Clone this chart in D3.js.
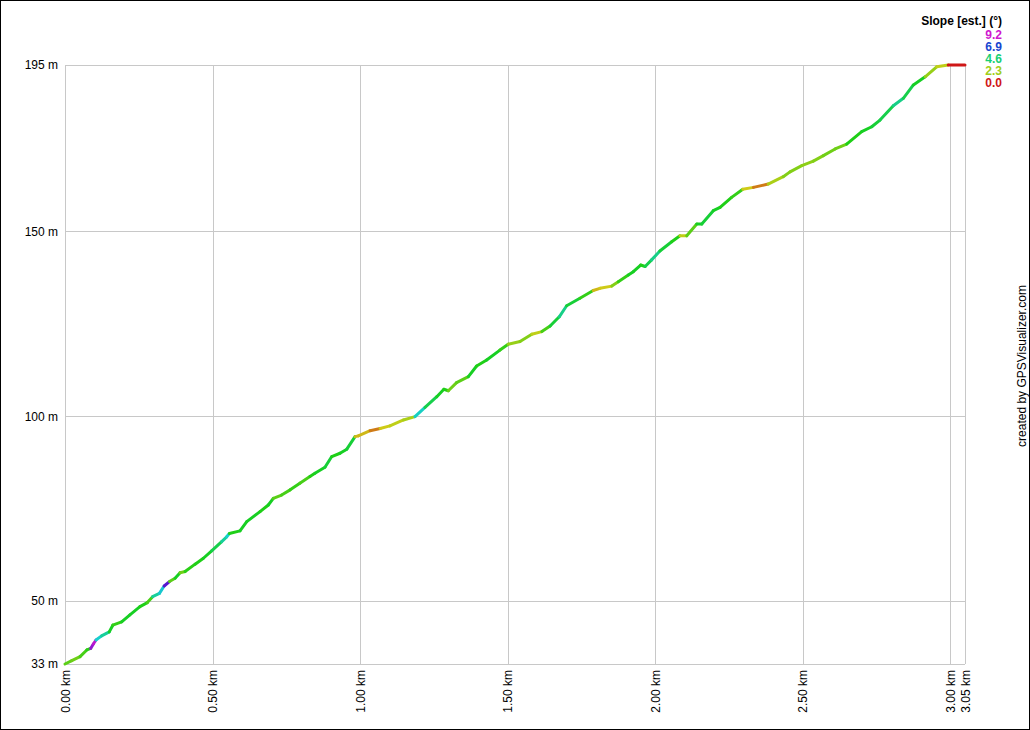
<!DOCTYPE html>
<html>
<head>
<meta charset="utf-8">
<script src="https://cdn.jsdelivr.net/npm/d3@7"></script>
<style>
  html, body { margin: 0; padding: 0; background: #fff; }
  svg { display: block; }
  text { font-family: "Liberation Sans", Arial, sans-serif; }
</style>
</head>
<body>
<svg id="chart" width="1030" height="730"></svg>
<script>
// Distance along track (km)
const distanceKm = [
  0.000, 0.023, 0.051, 0.074, 0.087, 0.096, 0.105, 0.124, 0.150, 0.162,
  0.192, 0.220, 0.254, 0.279, 0.297, 0.320, 0.336, 0.354, 0.373, 0.390,
  0.407, 0.441, 0.469, 0.497, 0.531, 0.548, 0.557, 0.593, 0.616, 0.661,
  0.689, 0.706, 0.734, 0.763, 0.796, 0.830, 0.847, 0.881, 0.904, 0.932,
  0.955, 0.983, 0.994, 1.034, 1.068, 1.101, 1.147, 1.186, 1.220, 1.260,
  1.284, 1.299, 1.327, 1.367, 1.395, 1.429, 1.474, 1.502, 1.542, 1.582,
  1.616, 1.644, 1.675, 1.700, 1.745, 1.790, 1.813, 1.853, 1.875, 1.909,
  1.926, 1.951, 1.966, 1.988, 2.016, 2.056, 2.084, 2.107, 2.141, 2.158,
  2.197, 2.220, 2.259, 2.297, 2.333, 2.383, 2.434, 2.457, 2.497, 2.536,
  2.570, 2.610, 2.649, 2.700, 2.734, 2.762, 2.807, 2.841, 2.875, 2.915,
  2.954, 2.993, 3.050
];
// Elevation (m)
const elevationM = [
  33.0, 33.9, 35.0, 36.8, 37.2, 38.4, 39.5, 40.6, 41.7, 43.5,
  44.4, 46.3, 48.5, 49.6, 51.2, 52.1, 54.1, 55.3, 56.2, 57.7,
  58.0, 60.0, 61.6, 63.6, 66.1, 67.4, 68.3, 69.0, 71.5, 74.2,
  76.0, 77.8, 78.7, 80.1, 81.9, 83.7, 84.6, 86.2, 89.1, 90.0,
  91.1, 94.5, 94.7, 96.1, 96.7, 97.4, 99.0, 99.9, 102.4, 105.3,
  107.3, 106.9, 109.1, 110.7, 113.6, 115.2, 117.9, 119.5, 120.2, 122.2,
  122.9, 124.4, 126.9, 129.9, 131.9, 134.0, 134.6, 135.2, 136.4, 138.2,
  139.1, 140.9, 140.5, 142.3, 144.7, 147.2, 148.8, 148.8, 152.0, 152.0,
  155.6, 156.5, 159.2, 161.4, 161.9, 162.8, 164.8, 166.1, 167.8, 169.0,
  170.5, 172.3, 173.6, 177.0, 178.3, 180.1, 184.0, 186.0, 189.6, 191.8,
  194.5, 195.0, 195.0
];
// Estimated slope (degrees) of the stretch starting at each point
const slopeDeg = [
  3.0, 2.8, 3.2, 3.5, 8.6, 9.0, 5.5, 5.0, 3.8, 3.4,
  3.8, 3.8, 3.6, 3.2, 5.0, 5.6, 8.0, 3.0, 3.8, 2.8,
  3.5, 3.6, 3.8, 4.2, 5.0, 5.5, 3.6, 3.8, 3.8, 3.6,
  3.8, 3.0, 3.2, 3.4, 3.2, 3.6, 3.8, 4.0, 3.6, 3.8,
  4.0, 1.6, 1.6, 1.0, 1.8, 2.0, 2.2, 5.4, 4.2, 3.8,
  3.6, 2.8, 3.0, 3.8, 3.6, 3.8, 3.4, 2.4, 2.6, 2.0,
  3.2, 4.0, 4.8, 4.0, 3.4, 1.6, 1.8, 2.6, 3.4, 3.8,
  3.8, 3.6, 4.2, 4.8, 4.0, 3.6, 2.0, 3.0, 3.8, 4.0,
  3.8, 3.6, 3.4, 1.8, 1.0, 2.2, 2.6, 2.6, 2.5, 2.6,
  2.8, 2.8, 3.6, 3.8, 4.0, 4.2, 4.8, 4.2, 3.8, 2.4,
  2.0, 0.0, 0.0
];
const xTicks = [0, 0.5, 1.0, 1.5, 2.0, 2.5, 3.0, 3.05];
const yTicks = [33, 50, 100, 150, 195];
const legendValues = [9.2, 6.9, 4.6, 2.3, 0.0];
const legendTitle = "Slope [est.] (°)";
const creditText = "created by GPSVisualizer.com";

const svg = d3.select("#chart");
const W = 1030, H = 730;
const plotL = 65, plotR = 965, plotT = 65, plotB = 664;
const FONT = "'Liberation Sans', Arial, sans-serif";

svg.append("rect").attr("x", 0.5).attr("y", 0.5).attr("width", W - 1).attr("height", H - 1)
  .attr("fill", "#fff").attr("stroke", "#000").attr("stroke-width", 1);

const x = d3.scaleLinear().domain([0, 3.05]).range([plotL, plotR]);
const y = d3.scaleLinear().domain([33, 195]).range([plotB, plotT]);
const color = s => d3.hsl(s / 9.2 * 300, 0.8, 0.45).formatHex();

// Y axis + horizontal grid
const yAxis = svg.append("g").attr("transform", `translate(${plotL},0)`)
  .call(d3.axisLeft(y).tickValues(yTicks).tickSize(-(plotR - plotL)).tickPadding(7)
    .tickFormat(d => d + " m"));
yAxis.select(".domain").remove();
yAxis.selectAll(".tick line").attr("stroke", "#c8c8c8").attr("shape-rendering", "crispEdges");
yAxis.selectAll(".tick text").attr("font-size", 12).attr("fill", "#000")
  .attr("font-family", FONT);

// X axis + vertical grid
const xAxis = svg.append("g").attr("transform", `translate(0,${plotB})`)
  .call(d3.axisBottom(x).tickValues(xTicks).tickSize(-(plotB - plotT))
    .tickFormat(d => d.toFixed(2) + " km"));
xAxis.select(".domain").remove();
xAxis.selectAll(".tick line").attr("stroke", "#c8c8c8").attr("shape-rendering", "crispEdges");
xAxis.selectAll(".tick text")
  .attr("font-size", 12).attr("fill", "#000")
  .attr("font-family", FONT)
  .attr("transform", "rotate(-90)")
  .attr("text-anchor", "end")
  .attr("x", -6).attr("y", 0).attr("dy", "0.35em");

// Profile line, segment by segment coloured by slope
const pts = distanceKm.map((d, i) => ({ d, e: elevationM[i], s: slopeDeg[i] }));
const segs = d3.pairs(pts);
const line = d3.line().x(p => x(p.d)).y(p => y(p.e));
svg.append("g").selectAll("path").data(segs).join("path")
  .attr("d", p => line(p))
  .attr("fill", "none")
  .attr("stroke", p => color(p[0].s))
  .attr("stroke-width", 3)
  .attr("stroke-linecap", "round")
  .attr("stroke-linejoin", "round");

// Legend
svg.append("text").attr("x", 1002).attr("y", 21).attr("dy", "0.35em")
  .attr("text-anchor", "end").attr("font-size", 12).attr("font-weight", "bold")
  .attr("fill", "#000").text(legendTitle);
svg.append("g").selectAll("text").data(legendValues).join("text")
  .attr("x", 1002).attr("y", (d, i) => 34.5 + i * 12).attr("dy", "0.35em")
  .attr("text-anchor", "end").attr("font-size", 12).attr("font-weight", "bold")
  .attr("fill", d => color(d)).text(d => d.toFixed(1));

// Credit
svg.append("text").attr("transform", "translate(1022,366) rotate(-90)")
  .attr("text-anchor", "middle").attr("dy", "0.35em").attr("font-size", 12)
  .attr("fill", "#000").text(creditText);
</script>
</body>
</html>
